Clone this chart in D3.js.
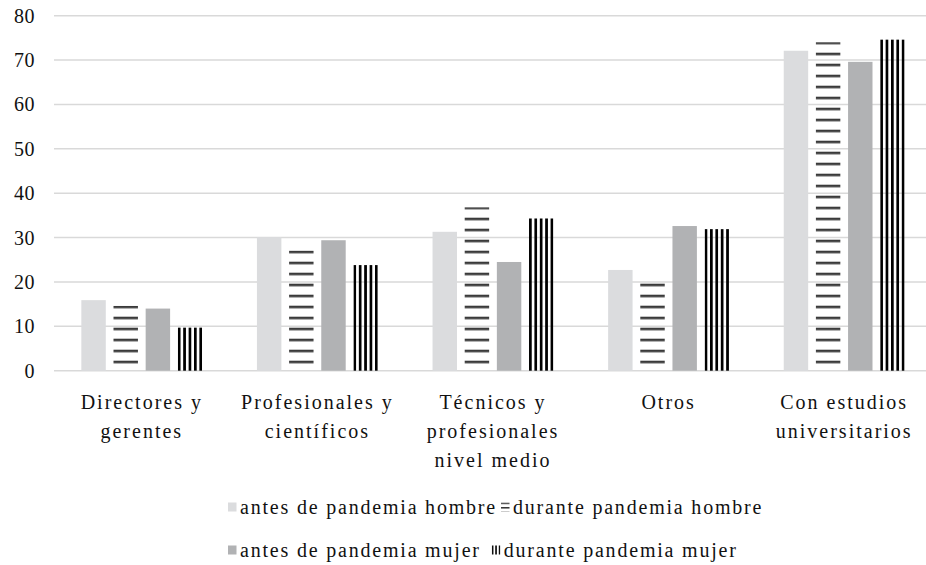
<!DOCTYPE html>
<html>
<head>
<meta charset="utf-8">
<script src="https://cdn.jsdelivr.net/npm/d3@7"></script>
<style>
  body { margin: 0; background: #fff; }
</style>
</head>
<body>
<script>
// categories (x axis), split into the lines shown under the bars
const categories = ['Directores y gerentes', 'Profesionales y científicos', 'Técnicos y profesionales nivel medio', 'Otros', 'Con estudios universitarios'];
const categoryLines = [
  ['Directores y', 'gerentes'],
  ['Profesionales y', 'científicos'],
  ['Técnicos y', 'profesionales', 'nivel medio'],
  ['Otros'],
  ['Con estudios', 'universitarios']
];
const seriesNames = ['antes de pandemia hombre', 'durante pandemia hombre', 'antes de pandemia mujer', 'durante pandemia mujer'];

// values
const antesHombre   = [15.9, 30.1, 31.3, 22.7, 72.1];
const duranteHombre = [14.6, 27.1, 36.8, 19.8, 74.0];
const antesMujer    = [14.0, 29.4, 24.5, 32.6, 69.6];
const duranteMujer  = [9.7, 23.8, 34.3, 31.9, 74.6];

const yTicks = [0, 10, 20, 30, 40, 50, 60, 70, 80];

const W = 926, H = 565;
const FONT = "'Liberation Serif'";
const SIZE = '20px';

const svg = d3.select('body').append('svg')
  .attr('width', W)
  .attr('height', H);

const x0 = d3.scaleBand().domain(categories).range([54, 932]);
const x1 = d3.scaleBand().domain(seriesNames).range([0, x0.bandwidth()])
  .paddingInner(0.24).paddingOuter(0.85);
const y = d3.scaleLinear().domain([0, 80]).range([370.7, 15.7]);

// fills for each series
const defs = svg.append('defs');

// horizontal hatch, lines lined up from the baseline
const hz = defs.append('pattern')
  .attr('id', 'hatchH')
  .attr('patternUnits', 'userSpaceOnUse')
  .attr('x', 0).attr('y', y(0))
  .attr('width', 40).attr('height', 11);
hz.append('rect').attr('x', 0).attr('y', 1.05).attr('width', 40).attr('height', 2.5).attr('fill', '#333');

// vertical stripes, 5 per bar
const vt = defs.append('pattern')
  .attr('id', 'hatchV')
  .attr('patternUnits', 'objectBoundingBox')
  .attr('width', 0.2205).attr('height', 1);
vt.append('rect').attr('x', 0).attr('y', 0).attr('width', 2.7).attr('height', 400).attr('fill', '#000');

// small versions for the legend keys
const hzs = defs.append('pattern')
  .attr('id', 'hatchHs')
  .attr('patternUnits', 'userSpaceOnUse')
  .attr('width', 20).attr('height', 4.5);
hzs.append('rect').attr('x', 0).attr('y', 0).attr('width', 20).attr('height', 1.5).attr('fill', '#333');

const vts = defs.append('pattern')
  .attr('id', 'hatchVs')
  .attr('patternUnits', 'userSpaceOnUse')
  .attr('width', 3.5).attr('height', 20);
vts.append('rect').attr('x', 0).attr('y', 0).attr('width', 1.6).attr('height', 20).attr('fill', '#000');

const fills = ['#dbdcde', 'url(#hatchH)', '#b1b2b4', 'url(#hatchV)'];
const legendFills = ['#dbdcde', 'url(#hatchHs)', '#b1b2b4', 'url(#hatchVs)'];

// gridlines
svg.append('g')
  .selectAll('line')
  .data(yTicks)
  .join('line')
  .attr('x1', 54).attr('x2', W)
  .attr('y1', d => y(d)).attr('y2', d => y(d))
  .attr('stroke', '#d9d9d9')
  .attr('stroke-width', 1.5);

// y tick labels
svg.append('g')
  .selectAll('text')
  .data(yTicks)
  .join('text')
  .attr('x', 35)
  .attr('y', d => y(d))
  .attr('dy', '0.35em')
  .attr('text-anchor', 'end')
  .style('font-family', FONT)
  .style('font-size', SIZE)
  .style('letter-spacing', '0.5px')
  .style('fill', '#111')
  .text(d => d);

// bars
const table = categories.map((c, i) => ({
  cat: c,
  values: [antesHombre[i], duranteHombre[i], antesMujer[i], duranteMujer[i]]
}));

const groups = svg.append('g')
  .selectAll('g')
  .data(table)
  .join('g')
  .attr('transform', d => 'translate(' + x0(d.cat) + ',0)');

groups.selectAll('rect')
  .data(d => d.values.map((v, j) => ({ s: seriesNames[j], v: v, j: j })))
  .join('rect')
  .attr('x', d => x1(d.s))
  .attr('width', x1.bandwidth())
  .attr('y', d => y(d.v))
  .attr('height', d => y(0) - y(d.v))
  .attr('fill', d => fills[d.j]);

// category labels
const labels = svg.append('g')
  .selectAll('text')
  .data(categories)
  .join('text')
  .attr('text-anchor', 'middle')
  .style('font-family', FONT)
  .style('font-size', SIZE)
  .style('letter-spacing', '2px')
  .style('fill', '#111')
  .attr('transform', d => 'translate(' + (x0(d) + x0.bandwidth() / 2) + ',409)');

labels.selectAll('tspan')
  .data((d, i) => categoryLines[i])
  .join('tspan')
  .attr('x', 0)
  .attr('y', (d, i) => i * 29)
  .text(d => d);

// legend, two rows of two entries
const legendRows = [[0, 1], [2, 3]];
const legendX = 228;
const rowY = [507, 550];
const colGap = [4, 11];

legendRows.forEach((row, r) => {
  let cx = legendX;
  row.forEach(j => {
    const g = svg.append('g').attr('transform', 'translate(' + cx + ',' + rowY[r] + ')');
    g.append('rect')
      .attr('x', 0).attr('y', -4.5)
      .attr('width', 8.5).attr('height', 9)
      .attr('fill', legendFills[j]);
    const t = g.append('text')
      .attr('x', 12)
      .attr('dy', '0.35em')
      .style('font-family', FONT)
      .style('font-size', SIZE)
      .style('letter-spacing', '1.8px')
      .style('fill', '#111')
      .text(seriesNames[j]);
    cx += 12 + t.node().getComputedTextLength() + colGap[r];
  });
});
</script>
</body>
</html>
